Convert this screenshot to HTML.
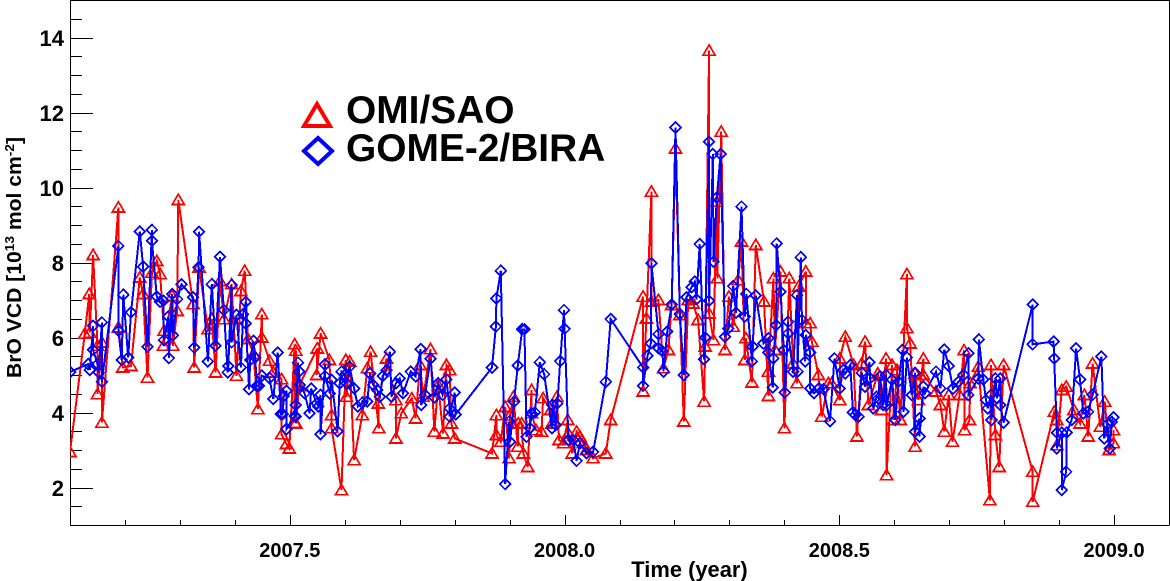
<!DOCTYPE html>
<html lang="en">
<head>
<meta charset="utf-8">
<title>BrO VCD time series</title>
<style>
html,body{margin:0;padding:0;background:#fff;}
svg{display:block;}
text{font-family:"Liberation Sans",sans-serif;font-weight:bold;fill:#000;}
</style>
</head>
<body>
<svg id="chart" xmlns="http://www.w3.org/2000/svg" width="1170" height="581" viewBox="0 0 1170 581">
  <defs><clipPath id="plot-clip"><rect x="70" y="0" width="1099" height="525"/></clipPath></defs>
  <rect x="0" y="0" width="1170" height="581" fill="#fff"/>
  <g id="axes"></g>
  <g id="series" clip-path="url(#plot-clip)"></g>
  <text x="689.5" y="577" font-size="21.9" text-anchor="middle">Time (year)</text>
  <text transform="translate(21,378) rotate(-90)" font-size="20" textLength="241" lengthAdjust="spacingAndGlyphs">BrO VCD [10<tspan dy="-7" font-size="13">13</tspan><tspan dy="7"> mol cm</tspan><tspan dy="-7" font-size="13">-2</tspan><tspan dy="7">]</tspan></text>
  <g>
    <polygon points="317,104 330,126 304,126" fill="none" stroke="#ff0000" stroke-width="4"/>
    <text x="346" y="123" font-size="38.9">OMI/SAO</text>
    <polygon points="318,138 332,151 318,164 304,151" fill="none" stroke="#0000ff" stroke-width="4"/>
    <text x="346" y="161" font-size="38.9">GOME-2/BIRA</text>
  </g>
</svg>
<script>
const yTickValues = [2,4,6,8,10,12,14];
const yTickLabels = ['2','4','6','8','10','12','14'];
const xTickValues = [2007.5,2008.0,2008.5,2009.0];
const xTickLabels = ['2007.5','2008.0','2008.5','2009.0'];
const omiYears = [2007.100,2007.127,2007.135,2007.136,2007.142,2007.150,2007.150,2007.158,2007.158,2007.188,2007.188,2007.196,2007.211,2007.227,2007.233,2007.241,2007.249,2007.258,2007.264,2007.271,2007.270,2007.286,2007.287,2007.295,2007.297,2007.324,2007.326,2007.335,2007.351,2007.358,2007.365,2007.373,2007.380,2007.394,2007.403,2007.411,2007.418,2007.424,2007.434,2007.442,2007.449,2007.449,2007.463,2007.470,2007.485,2007.485,2007.494,2007.499,2007.509,2007.509,2007.511,2007.511,2007.517,2007.550,2007.549,2007.556,2007.572,2007.576,2007.576,2007.594,2007.602,2007.603,2007.609,2007.617,2007.632,2007.641,2007.647,2007.662,2007.661,2007.676,2007.693,2007.693,2007.703,2007.722,2007.729,2007.737,2007.743,2007.756,2007.763,2007.770,2007.779,2007.785,2007.791,2007.794,2007.800,2007.868,2007.876,2007.876,2007.884,2007.892,2007.899,2007.901,2007.907,2007.915,2007.916,2007.922,2007.925,2007.933,2007.940,2007.940,2007.948,2007.958,2007.961,2007.975,2007.977,2007.986,2007.990,2007.998,2008.006,2008.007,2008.014,2008.022,2008.028,2008.034,2008.040,2008.052,2008.075,2008.084,2008.143,2008.143,2008.149,2008.158,2008.158,2008.171,2008.180,2008.189,2008.195,2008.202,2008.210,2008.217,2008.225,2008.234,2008.243,2008.254,2008.256,2008.263,2008.263,2008.271,2008.277,2008.278,2008.285,2008.292,2008.299,2008.307,2008.316,2008.322,2008.328,2008.330,2008.341,2008.348,2008.363,2008.371,2008.371,2008.380,2008.383,2008.393,2008.400,2008.409,2008.416,2008.423,2008.426,2008.439,2008.439,2008.447,2008.450,2008.462,2008.468,2008.480,2008.486,2008.501,2008.501,2008.511,2008.526,2008.532,2008.541,2008.547,2008.553,2008.570,2008.577,2008.585,2008.586,2008.596,2008.599,2008.605,2008.611,2008.623,2008.623,2008.629,2008.638,2008.638,2008.644,2008.653,2008.653,2008.676,2008.684,2008.691,2008.699,2008.706,2008.719,2008.727,2008.728,2008.737,2008.738,2008.753,2008.774,2008.776,2008.784,2008.791,2008.799,2008.852,2008.852,2008.891,2008.896,2008.896,2008.905,2008.913,2008.927,2008.938,2008.946,2008.953,2008.961,2008.975,2008.983,2008.991,2008.999,2008.999];
const omiValues = [2.95,6.10,7.16,6.13,8.20,5.78,4.49,5.87,3.73,9.47,6.27,5.20,5.24,7.60,7.16,4.93,7.73,8.04,7.69,6.18,5.78,7.11,5.78,6.71,9.67,6.89,5.20,7.87,6.22,6.49,5.07,7.51,6.49,7.42,4.98,7.24,7.78,5.96,5.56,4.09,6.62,6.00,5.38,5.07,4.89,3.42,3.16,3.04,5.82,3.73,5.65,3.71,4.71,5.71,5.00,6.11,5.40,3.93,3.58,1.93,5.40,4.42,5.36,2.73,3.93,5.18,5.62,3.58,4.24,5.44,4.33,3.31,3.98,4.38,3.84,5.27,4.42,5.69,3.49,4.73,3.44,5.27,5.13,3.71,3.31,2.91,3.93,3.40,3.22,4.15,2.78,3.93,4.42,3.09,3.71,3.71,2.91,2.55,4.60,3.98,3.53,3.49,4.38,4.07,3.71,4.42,3.27,3.18,3.80,3.44,2.91,3.49,3.36,3.18,3.00,2.78,2.91,3.80,7.09,4.56,6.51,9.89,6.96,7.00,5.18,5.67,6.87,11.04,6.60,3.76,7.00,6.91,6.47,4.29,5.76,13.65,6.64,5.93,9.62,7.58,11.49,5.67,7.09,6.29,7.53,8.56,5.40,5.98,4.80,8.47,6.96,4.44,5.09,7.58,5.67,7.76,3.58,7.58,5.31,4.78,7.36,7.76,6.38,6.38,5.89,5.00,3.89,4.78,4.78,4.33,5.44,6.02,5.27,3.36,5.31,5.89,4.20,5.04,4.07,5.44,2.33,5.27,3.80,5.13,3.80,7.69,6.25,5.84,3.09,5.04,4.33,5.44,5.00,4.56,4.20,3.49,4.47,3.22,4.47,5.66,3.53,3.80,4.78,5.22,1.66,5.27,3.40,2.55,5.27,2.42,1.62,4.02,3.80,3.13,4.60,4.69,4.07,3.71,4.47,3.36,5.31,3.62,4.29,3.00,3.18,3.53];
const gomeYears = [2007.100,2007.133,2007.136,2007.142,2007.142,2007.150,2007.152,2007.158,2007.158,2007.188,2007.188,2007.194,2007.197,2007.206,2007.211,2007.227,2007.233,2007.241,2007.249,2007.249,2007.258,2007.264,2007.270,2007.271,2007.279,2007.280,2007.286,2007.287,2007.295,2007.303,2007.324,2007.326,2007.334,2007.335,2007.351,2007.358,2007.365,2007.373,2007.380,2007.387,2007.388,2007.394,2007.394,2007.403,2007.411,2007.415,2007.420,2007.420,2007.426,2007.428,2007.434,2007.437,2007.440,2007.444,2007.449,2007.463,2007.470,2007.478,2007.484,2007.487,2007.489,2007.494,2007.494,2007.509,2007.511,2007.511,2007.515,2007.517,2007.518,2007.527,2007.536,2007.539,2007.549,2007.552,2007.556,2007.556,2007.564,2007.564,2007.573,2007.576,2007.587,2007.591,2007.594,2007.600,2007.603,2007.609,2007.617,2007.624,2007.632,2007.641,2007.646,2007.652,2007.659,2007.664,2007.669,2007.676,2007.682,2007.685,2007.693,2007.700,2007.706,2007.720,2007.729,2007.738,2007.739,2007.746,2007.756,2007.763,2007.770,2007.778,2007.785,2007.791,2007.791,2007.800,2007.802,2007.868,2007.875,2007.876,2007.884,2007.892,2007.899,2007.901,2007.908,2007.915,2007.923,2007.927,2007.931,2007.937,2007.940,2007.946,2007.955,2007.963,2007.977,2007.978,2007.984,2007.987,2007.992,2007.999,2008.000,2008.007,2008.016,2008.022,2008.028,2008.040,2008.052,2008.075,2008.084,2008.143,2008.143,2008.151,2008.157,2008.158,2008.171,2008.171,2008.178,2008.180,2008.187,2008.195,2008.202,2008.210,2008.217,2008.222,2008.231,2008.237,2008.240,2008.246,2008.254,2008.256,2008.263,2008.263,2008.270,2008.271,2008.277,2008.284,2008.292,2008.298,2008.307,2008.312,2008.322,2008.328,2008.331,2008.341,2008.342,2008.348,2008.362,2008.371,2008.371,2008.379,2008.380,2008.385,2008.386,2008.393,2008.399,2008.401,2008.407,2008.407,2008.416,2008.423,2008.424,2008.430,2008.432,2008.438,2008.439,2008.447,2008.447,2008.454,2008.463,2008.471,2008.483,2008.491,2008.501,2008.507,2008.511,2008.520,2008.525,2008.529,2008.535,2008.541,2008.547,2008.555,2008.556,2008.562,2008.568,2008.571,2008.574,2008.580,2008.585,2008.586,2008.596,2008.602,2008.608,2008.615,2008.617,2008.623,2008.632,2008.638,2008.638,2008.646,2008.646,2008.653,2008.656,2008.676,2008.684,2008.691,2008.699,2008.707,2008.717,2008.726,2008.735,2008.735,2008.753,2008.754,2008.762,2008.767,2008.770,2008.776,2008.777,2008.784,2008.787,2008.793,2008.793,2008.799,2008.852,2008.852,2008.890,2008.891,2008.896,2008.896,2008.905,2008.905,2008.913,2008.914,2008.923,2008.931,2008.938,2008.944,2008.953,2008.961,2008.977,2008.982,2008.988,2008.992,2008.996,2008.999];
const gomeValues = [5.08,5.29,5.14,6.31,5.67,5.29,5.07,6.40,4.82,8.44,6.18,5.40,7.14,5.47,6.67,8.83,7.89,5.75,8.87,8.58,7.09,6.95,6.98,5.93,6.56,5.45,7.16,6.06,7.02,7.42,7.07,5.73,7.87,8.82,5.36,7.42,5.78,8.15,6.73,5.07,5.24,7.40,5.87,6.60,5.20,6.62,6.95,6.37,4.62,5.40,5.91,5.47,4.71,4.71,4.98,4.92,4.36,5.60,3.96,3.96,4.44,4.58,3.56,3.91,4.20,3.89,5.33,5.09,4.73,4.51,3.98,4.64,4.24,4.16,4.47,3.42,5.28,4.97,4.51,4.87,3.50,4.78,5.09,5.00,4.78,5.22,4.64,4.16,4.26,4.29,5.04,4.73,4.60,4.42,4.97,5.13,5.62,4.42,4.78,4.91,4.51,5.09,4.96,5.69,4.20,4.47,5.43,4.40,4.78,4.47,4.88,4.11,3.89,4.53,3.95,5.20,6.29,7.04,7.78,2.09,3.76,3.22,4.29,5.25,6.22,6.22,3.35,3.58,3.98,4.00,5.34,5.02,3.58,4.20,3.67,4.24,5.37,6.73,6.23,3.27,3.27,2.71,3.18,2.91,2.95,4.82,6.49,5.20,4.71,5.51,5.84,7.98,6.09,5.71,5.64,5.09,6.16,6.88,11.60,6.63,5.00,7.07,7.34,7.49,7.02,8.49,5.42,6.00,11.22,6.98,10.89,8.02,9.73,10.89,6.02,6.24,7.37,6.66,9.49,6.56,7.16,5.36,5.76,7.12,5.84,5.98,5.60,4.67,5.44,6.33,8.51,7.22,5.67,4.53,6.42,6.11,5.09,7.13,5.09,8.14,6.47,5.36,6.07,5.60,4.64,4.51,4.64,4.62,3.77,5.44,4.64,5.13,5.04,5.27,4.00,3.93,3.89,5.06,4.69,5.34,4.91,4.11,4.42,4.38,4.96,4.20,5.00,4.20,4.87,3.80,4.82,5.67,4.02,5.47,4.47,5.06,3.49,3.84,3.36,4.69,4.51,5.09,4.64,5.68,5.24,4.64,4.82,5.00,5.58,4.47,4.91,5.95,4.88,4.33,4.11,4.47,3.80,4.91,4.38,4.91,4.20,3.73,6.88,5.82,5.89,5.44,3.46,3.04,3.46,1.93,2.42,3.47,3.80,5.71,4.88,3.98,4.02,4.47,5.49,3.31,3.69,3.04,3.75,3.87];

const SVGNS = 'http://www.w3.org/2000/svg';
function xScale(year){ return 70 + (year - 2007.1) * 549.5; }
function yScale(val){ return 525 - (val - 1) * 37.5; }
const axesG = document.getElementById('axes');
const seriesG = document.getElementById('series');

function addLine(parent, x1, y1, x2, y2, name){
  const l = document.createElementNS(SVGNS,'line');
  l.setAttribute('x1',x1); l.setAttribute('y1',y1);
  l.setAttribute('x2',x2); l.setAttribute('y2',y2);
  l.setAttribute('stroke','#000'); l.setAttribute('stroke-width','1');
  l.setAttribute('shape-rendering','crispEdges');
  
  
  parent.appendChild(l);
}
addLine(axesG,70.5,0,70.5,525.5,'y-axis-line');
addLine(axesG,70,525.5,1169,525.5,'x-axis-line');
addLine(axesG,70,0.5,1169,0.5,'top-frame-line');
addLine(axesG,1169.5,0,1169.5,525.5,'right-frame-line');

for(let v=1.5;v<15;v+=0.5){
  const major = yTickValues.indexOf(v)>=0;
  const py = Math.round(yScale(v))+0.5;
  addLine(axesG,70,py,major?93:82,py,major?'y-major-tick':'y-minor-tick');
}
for(let i=1;i<=19;i++){
  const yr = 2007.1+i*0.1;
  const major = xTickValues.some(function(t){return Math.abs(t-yr)<1e-6;});
  const px = Math.round(xScale(yr))+0.5;
  addLine(axesG,px,525,px,major?515:520,major?'x-major-tick':'x-minor-tick');
}
yTickValues.forEach(function(v,i){
  const t = document.createElementNS(SVGNS,'text');
  t.setAttribute('x',64);
  t.setAttribute('y',yScale(v)+8.5);
  t.setAttribute('text-anchor','end');
  t.setAttribute('font-size','22');
  
  
  t.textContent = yTickLabels[i];
  axesG.appendChild(t);
});
xTickValues.forEach(function(v,i){
  const t = document.createElementNS(SVGNS,'text');
  t.setAttribute('x',xScale(v));
  t.setAttribute('y',557);
  t.setAttribute('text-anchor','middle');
  t.setAttribute('font-size','20');
  
  
  t.textContent = xTickLabels[i];
  axesG.appendChild(t);
});

function drawSeries(years, values, color, kind){
  const path = document.createElementNS(SVGNS,'polyline');
  path.setAttribute('points', years.map(function(y,i){return xScale(y).toFixed(1)+','+yScale(values[i]).toFixed(1);}).join(' '));
  path.setAttribute('fill','none');
  path.setAttribute('stroke',color);
  path.setAttribute('stroke-width','2');
  path.setAttribute('shape-rendering','crispEdges');
  
  
  seriesG.appendChild(path);
  years.forEach(function(y,i){
    const cx = xScale(y), cy = yScale(values[i]);
    const m = document.createElementNS(SVGNS,'polygon');
    let pts;
    if(kind==='tri'){
      pts = [[0,-5.7],[6,4.5],[-6,4.5]];
    } else {
      pts = [[0,-5.3],[5.3,0],[0,5.3],[-5.3,0]];
    }
    m.setAttribute('points', pts.map(function(p){return (cx+p[0]).toFixed(1)+','+(cy+p[1]).toFixed(1);}).join(' '));
    m.setAttribute('fill','none');
    m.setAttribute('stroke',color);
    m.setAttribute('stroke-width','1.7');
    m.setAttribute('shape-rendering','crispEdges');
    
    
    seriesG.appendChild(m);
  });
}
drawSeries(omiYears, omiValues, '#ff0000', 'tri');
drawSeries(gomeYears, gomeValues, '#0000ff', 'dia');
</script>
</body>
</html>
